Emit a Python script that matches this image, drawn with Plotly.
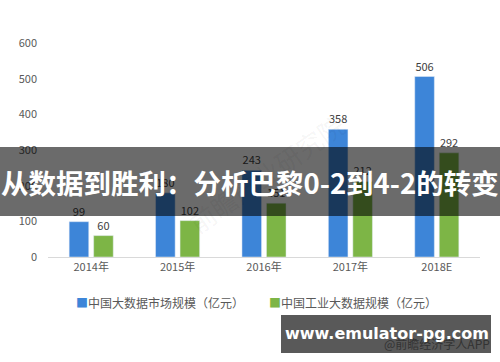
import plotly.graph_objects as go

categories = ["2014年", "2015年", "2016年", "2017年", "2018E"]
market_size = [99, 180, 243, 358, 506]
industrial_size = [60, 102, 151, 212, 292]
series_names = ["中国大数据市场规模（亿元）", "中国工业大数据规模（亿元）"]
y_ticks = [0, 100, 200, 300, 400, 500, 600]

BLUE = "#3d85d8"
GREEN = "#7db546"
TXT = "#595959"
FONT = "Noto Sans CJK SC"

fig = go.Figure()
fig.add_trace(go.Bar(x=categories, y=market_size, name=series_names[0],
                     marker_color=BLUE, text=market_size, textposition="outside",
                     textfont=dict(size=11, color="#404040"), cliponaxis=False))
fig.add_trace(go.Bar(x=categories, y=industrial_size, name=series_names[1],
                     marker_color=GREEN, text=industrial_size, textposition="outside",
                     textfont=dict(size=11, color="#404040"), cliponaxis=False))

fig.update_layout(
    width=500, height=362,
    margin=dict(l=48, r=20, t=43, b=105),
    paper_bgcolor="white", plot_bgcolor="white",
    barmode="group", bargap=0.433, bargroupgap=0.2,
    showlegend=False,
    font=dict(family=FONT, size=11, color=TXT),
    xaxis=dict(showline=True, linecolor="#d9d9d9", linewidth=1, ticks="",
               tickfont=dict(size=11, color=TXT), fixedrange=True),
    yaxis=dict(range=[0, 600], tickvals=y_ticks, showgrid=False, zeroline=False,
               showline=False, ticks="", tickfont=dict(size=11, color=TXT),
               ticklabelstandoff=10),
)

# faint diagonal watermark
fig.add_annotation(xref="paper", yref="paper", x=0.3, y=0.72, text="前瞻产业研究院",
                   showarrow=False, textangle=-35,
                   font=dict(size=26, color="rgba(0,0,0,0.05)", family=FONT))

# legend (manual)
fig.add_annotation(xref="paper", yref="paper", x=(74 - 48) / 432, y=-45 / 214,
                   xanchor="left", yanchor="middle", showarrow=False,
                   text=f'<span style="color:{BLUE}">■</span>{series_names[0]}',
                   font=dict(size=12, color=TXT, family=FONT))
fig.add_annotation(xref="paper", yref="paper", x=(267 - 48) / 432, y=-45 / 214,
                   xanchor="left", yanchor="middle", showarrow=False,
                   text=f'<span style="color:{GREEN}">■</span>{series_names[1]}',
                   font=dict(size=12, color=TXT, family=FONT))

# source text
fig.add_annotation(xref="paper", yref="paper", x=(492 - 48) / 432, y=-(343 - 257) / 214,
                   xanchor="right", yanchor="middle", showarrow=False,
                   text="@前瞻经济学人APP", font=dict(size=12, color="#333333", family=FONT))

# title overlay banner
fig.add_shape(type="rect", xref="paper", yref="paper",
              x0=-48 / 432, x1=(500 - 48) / 432,
              y0=(257 - 216) / 214, y1=(257 - 147) / 214,
              fillcolor="rgba(0,0,0,0.58)", line_width=0, layer="above")
fig.add_annotation(xref="paper", yref="paper", x=(250 - 48) / 432, y=(257 - 182) / 214,
                   xanchor="center", yanchor="middle", showarrow=False,
                   text="<b>从数据到胜利：分析巴黎0-2到4-2的转变</b>",
                   font=dict(size=27.5, color="white", family=FONT))

# url watermark box
fig.add_shape(type="rect", xref="paper", yref="paper",
              x0=(281 - 48) / 432, x1=(491 - 48) / 432,
              y0=-(353 - 257) / 214, y1=-(315 - 257) / 214,
              fillcolor="rgba(60,60,60,0.85)", line_width=0, layer="above")
fig.add_annotation(xref="paper", yref="paper", x=(387 - 48) / 432, y=-(333 - 257) / 214,
                   xanchor="center", yanchor="middle", showarrow=False,
                   text="<b>www.emulator-pg.com</b>",
                   font=dict(size=16, color="white", family="DejaVu Sans"))

fig.write_html("out.html", config={"displayModeBar": False},
               post_script="document.body.style.margin='0';document.body.style.padding='0';")
